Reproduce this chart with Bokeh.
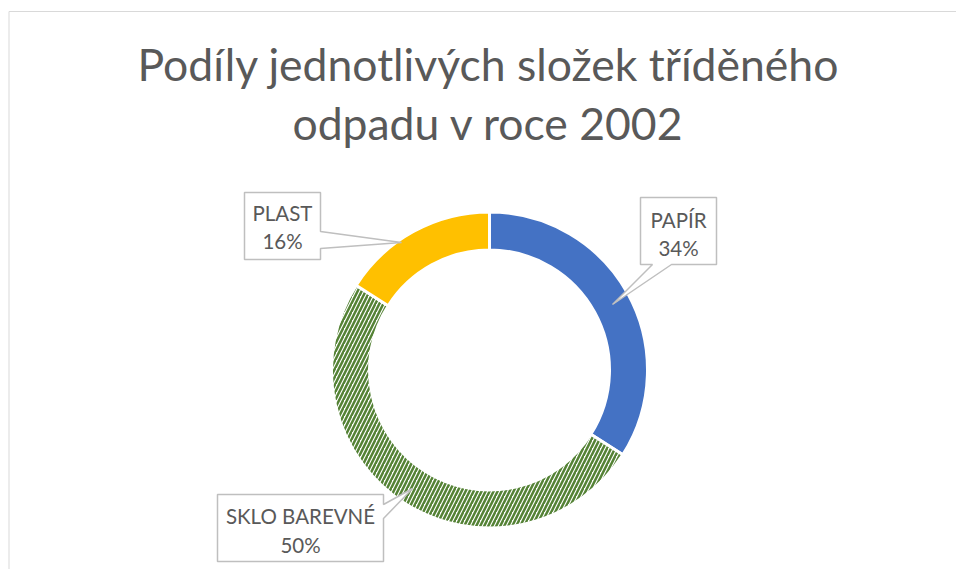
import math
from bokeh.plotting import figure
from bokeh.models import Range1d, ColumnDataSource
from bokeh.core.properties import value
from bokeh.embed import file_html
from bokeh.resources import INLINE

# ---- data ----
categories = ["PAPÍR", "SKLO BAREVNÉ", "PLAST"]
values = [34, 50, 16]
title_lines = ["Podíly jednotlivých složek tříděného", "odpadu v roce 2002"]

# ---- styles ----
colors = ["#4472C4", "#FFFFFF", "#FFC000"]
hatches = [" ", "right_diagonal_line", " "]
hatch_colors = ["#4472C4", "#548235", "#FFC000"]
TEXT = "#595959"
FONT = "Lato"

W, H = 956, 569
OX, OY = 1, 1
def X(px):  # page px -> data x
    return px - OX
def Y(py):  # page py -> data y
    return OY + H - py

p = figure(width=W, height=H, output_backend="svg", toolbar_location=None,
           x_range=Range1d(0, W), y_range=Range1d(0, H),
           x_axis_type=None, y_axis_type=None, min_border=0)
p.outline_line_color = None
p.background_fill_color = "white"
p.border_fill_color = "white"
p.grid.visible = False

# chart area border (left / top)
p.line([X(9.5), X(9.5)], [Y(12), Y(600)], line_color="#d9d9d9", line_width=1)
p.line([X(9.5), X(1000)], [Y(12), Y(12)], line_color="#d9d9d9", line_width=1)

# ---- donut ----
total = sum(values)
starts, ends, acc = [], [], 0
for v in values:
    starts.append(math.pi / 2 - 2 * math.pi * acc / total)
    acc += v
    ends.append(math.pi / 2 - 2 * math.pi * acc / total)

cx, cy = X(490), Y(370.5)
src = ColumnDataSource(dict(start=starts, end=ends, fill=colors, hatch=hatches,
                            hcol=hatch_colors, cat=categories))
p.annular_wedge(x=cx, y=cy, inner_radius=120, outer_radius=158,
                start_angle="start", end_angle="end", direction="clock",
                fill_color="fill", hatch_pattern="hatch", hatch_color="hcol",
                hatch_scale=8, hatch_weight=2.5,
                line_color="white", line_width=3, source=src)

# ---- title ----
p.text(x=[X(489), X(489)], y=[Y(64), Y(123)], text=title_lines,
       text_font=value(FONT), text_font_size="44.5px", text_color=TEXT,
       text_align="center", text_baseline="alphabetic")

# ---- callouts (positions in page px) ----
callouts = [
    [(641, 198), (717, 198), (717, 265), (672, 265), (613, 305), (653, 265), (641, 265)],
    [(218, 495), (384, 495), (384, 505), (413, 489), (384, 519), (384, 562), (218, 562)],
    [(245, 193), (321, 193), (321, 232), (402, 243), (321, 249), (321, 260), (245, 260)],
]
label_pos = [(679, 220, 248), (301, 516, 545), (283, 213, 241)]

p.patches([[X(a) for a, b in c] for c in callouts],
          [[Y(b) for a, b in c] for c in callouts],
          fill_color="white", line_color="#bfbfbf", line_width=1.5)

pcts = [f"{round(100 * v / total)}%" for v in values]
lx, ly, ltxt = [], [], []
for (x0, y1, y2), cat, pc in zip(label_pos, categories, pcts):
    lx += [X(x0), X(x0)]
    ly += [Y(y1), Y(y2)]
    ltxt += [cat, pc]
p.text(x=lx, y=ly, text=ltxt, text_font=value(FONT), text_font_size="20.5px",
       text_color=TEXT, text_align="center", text_baseline="alphabetic")

open("out.html", "w").write(file_html(p, INLINE))
